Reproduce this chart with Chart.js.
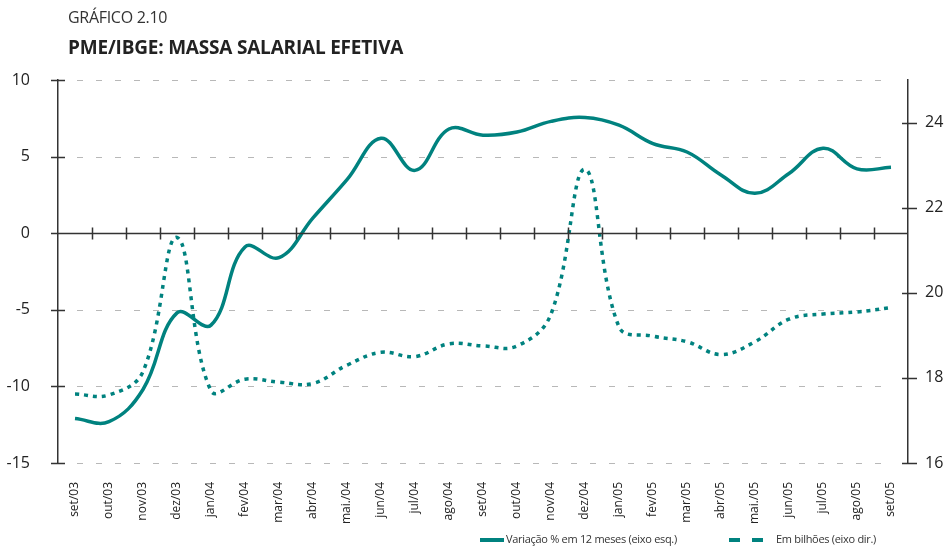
<!DOCTYPE html>
<html>
<head>
<meta charset="utf-8">
<script src="https://cdn.jsdelivr.net/npm/chart.js@4"></script>
<style>
  html, body { margin: 0; padding: 0; background: #fff; }
  #wrap { position: relative; width: 946px; height: 546px; font-family: "Open Sans", sans-serif; color: #222; }
  #chart { position: absolute; left: 0; top: 0; }
  .sup { position: absolute; left: 68px; top: 6px; font-size: 16px; letter-spacing: -0.3px; color: #333; }
  .ttl { position: absolute; left: 68px; top: 34px; font-size: 19px; font-weight: 700; letter-spacing: -0.2px; color: #222; }
  .leg { position: absolute; top: 531px; font-size: 11px; letter-spacing: -0.3px; color: #333; white-space: nowrap; }
  .sw { position: absolute; top: 538px; height: 4px; background: #00827f; }
</style>
</head>
<body>
<div id="wrap">
  <canvas id="chart" width="946" height="546"></canvas>
  <div class="sup">GRÁFICO 2.10</div>
  <div class="ttl">PME/IBGE: MASSA SALARIAL EFETIVA</div>
  <div class="sw" style="left:480px;width:24px"></div>
  <div class="leg" style="left:506px">Variação % em 12 meses (eixo esq.)</div>
  <div class="sw" style="left:729px;width:11px"></div>
  <div class="sw" style="left:752px;width:11px"></div>
  <div class="leg" style="left:776px">Em bilhões (eixo dir.)</div>
</div>
<script>
////// data //////
const meses = ['set/03', 'out/03', 'nov/03', 'dez/03', 'jan/04', 'fev/04', 'mar/04', 'abr/04',
  'mai./04', 'jun/04', 'jul/04', 'ago/04', 'set/04', 'out/04', 'nov/04', 'dez/04', 'jan/05',
  'fev/05', 'mar/05', 'abr/05', 'mai./05', 'jun/05', 'jul/05', 'ago/05', 'set/05'];

// variação % em 12 meses (eixo esq.)
const variacao = [-12.1, -12.3, -10.2, -5.2, -6.0, -0.9, -1.6, 1.0, 3.5, 6.2, 4.1, 6.8, 6.4,
  6.6, 7.3, 7.55, 7.05, 5.85, 5.3, 3.8, 2.6, 3.9, 5.55, 4.2, 4.3];

// em bilhões (eixo dir.)
const bilhoes = [17.62, 17.6, 18.15, 21.3, 17.7, 17.97, 17.9, 17.87, 18.3, 18.6, 18.5, 18.8, 18.75,
  18.75, 19.5, 22.9, 19.2, 18.98, 18.85, 18.55, 18.85, 19.38, 19.5, 19.55, 19.65];

const ticksEsq = [10, 5, 0, -5, -10, -15];
const ticksDir = [16, 18, 20, 22, 24];

const teal = '#00827f';
const axisColor = '#333';

////// dashed grid (behind the lines) //////
const dashedGrid = {
  id: 'dashedGrid',
  beforeDatasetsDraw(chart) {
    const { ctx, chartArea } = chart;
    const yl = chart.scales.y;
    ctx.save();
    ctx.strokeStyle = '#b8b8b8';
    ctx.lineWidth = 1.2;
    ctx.setLineDash([6, 13]);
    ctx.beginPath();
    ticksEsq.filter(v => v !== 0).forEach(v => {
      const py = Math.round(yl.getPixelForValue(v)) + 0.5;
      ctx.moveTo(chartArea.left + 19, py);
      ctx.lineTo(chartArea.right - 16, py);
    });
    ctx.stroke();
    ctx.restore();
  }
};

////// zero line, month ticks and crossing axis ticks //////
const axisMarks = {
  id: 'axisMarks',
  afterDatasetsDraw(chart) {
    const { ctx, chartArea } = chart;
    const x = chart.scales.x;
    const yl = chart.scales.y;
    const yr = chart.scales.y1;
    const y0 = Math.round(yl.getPixelForValue(0)) + 0.5;
    const half = (x.getPixelForValue(1) - x.getPixelForValue(0)) / 2;
    ctx.save();
    ctx.strokeStyle = axisColor;
    ctx.lineWidth = 1.5;
    ctx.beginPath();
    ctx.moveTo(chartArea.left, y0);
    ctx.lineTo(chartArea.right, y0);
    for (let i = 0; i < meses.length - 1; i++) {
      const px = Math.round(x.getPixelForValue(i) + half) + 0.5;
      ctx.moveTo(px, y0 - 6);
      ctx.lineTo(px, y0 + 6);
    }
    ticksEsq.forEach(v => {
      const py = Math.round(yl.getPixelForValue(v)) + 0.5;
      ctx.moveTo(chartArea.left - 7, py);
      ctx.lineTo(chartArea.left + 7, py);
    });
    ticksDir.forEach(v => {
      const py = Math.round(yr.getPixelForValue(v)) + 0.5;
      ctx.moveTo(chartArea.right - 6, py);
      ctx.lineTo(chartArea.right + 9, py);
    });
    ctx.stroke();
    ctx.restore();
  }
};

////// chart //////
const chart = new Chart(document.querySelector('#chart'), {
  type: 'line',
  data: {
    labels: meses,
    datasets: [{
      label: 'Variação % em 12 meses (eixo esq.)',
      data: variacao,
      yAxisID: 'y',
      borderColor: teal,
      borderWidth: 3.5,
      tension: 0.4,
      pointRadius: 0
    }, {
      label: 'Em bilhões (eixo dir.)',
      data: bilhoes,
      yAxisID: 'y1',
      borderColor: teal,
      borderWidth: 3.5,
      borderDash: [4, 5],
      tension: 0.4,
      pointRadius: 0
    }]
  },
  options: {
    responsive: false,
    animation: false,
    layout: { padding: { top: 80, left: 0, right: 0, bottom: 0 } },
    plugins: { legend: { display: false }, tooltip: { enabled: false } },
    scales: {
      x: {
        offset: true,
        grid: { display: false },
        border: { display: false },
        ticks: {
          minRotation: 90, maxRotation: 90, autoSkip: false, padding: 11,
          color: '#222', font: { family: 'Open Sans', size: 12 }
        },
        afterFit: (s) => { s.height = 83; }
      },
      y: {
        position: 'left',
        min: -15, max: 10,
        afterBuildTicks: (s) => { s.ticks = ticksEsq.map(v => ({ value: v })); },
        grid: { display: false },
        border: { display: true, color: axisColor, width: 1.5 },
        ticks: { color: '#222', padding: 20, font: { family: 'Open Sans', size: 16 } },
        afterFit: (s) => { s.width = 58; }
      },
      y1: {
        position: 'right',
        min: 16, max: 25,
        afterBuildTicks: (s) => { s.ticks = ticksDir.map(v => ({ value: v })); },
        grid: { display: false },
        border: { display: true, color: axisColor, width: 1.5 },
        ticks: { color: '#222', padding: 9, font: { family: 'Open Sans', size: 16 } },
        afterFit: (s) => { s.width = 38; }
      }
    }
  },
  plugins: [dashedGrid, axisMarks]
});
</script>
</body>
</html>
